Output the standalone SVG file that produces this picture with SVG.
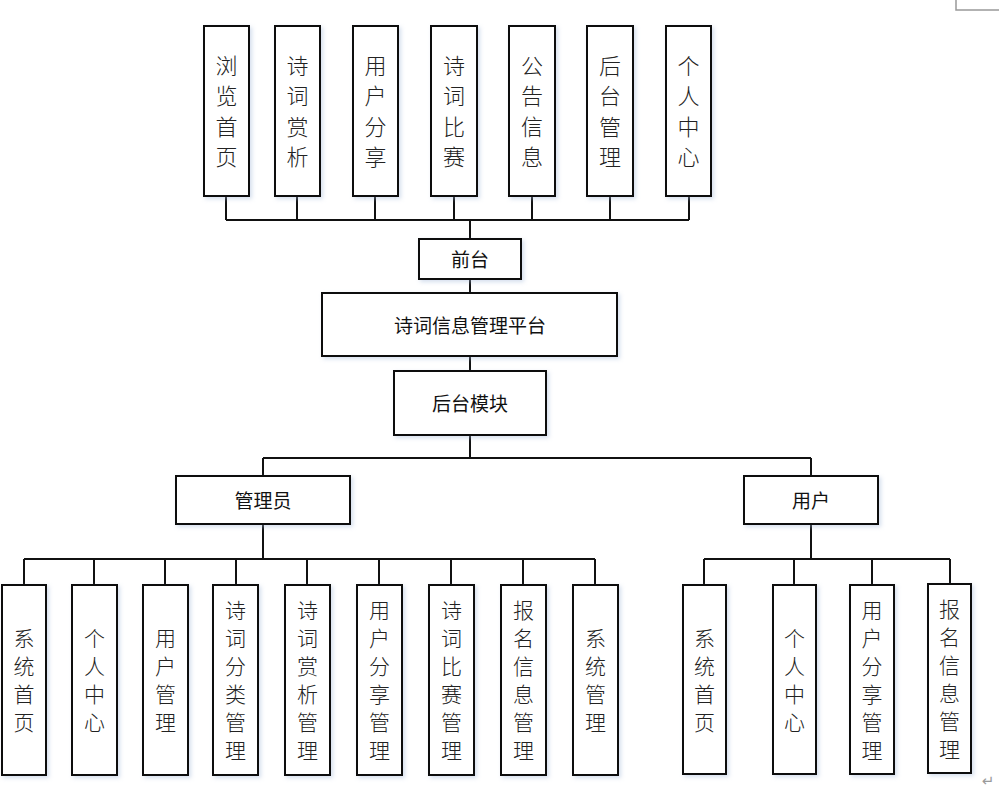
<svg xmlns="http://www.w3.org/2000/svg" width="1004" height="789" viewBox="0 0 1004 789">
<style>
.box{fill:#fff;stroke:#111;stroke-width:2;filter:url(#sh)}
.ln{fill:none;stroke:#111;stroke-width:2}
.t{font-family:"Noto Sans CJK SC","Noto Sans",sans-serif;fill:#111;text-anchor:middle;dominant-baseline:central}
.v{font-size:22px;font-weight:300;fill:#222}
.vb{font-size:21px;font-weight:300;fill:#222}
.h{font-size:19px}
</style>
<defs>
<filter id="sh" x="-20%" y="-20%" width="140%" height="140%">
<feDropShadow dx="2" dy="2" stdDeviation="2" flood-color="#9fb6d8" flood-opacity="0.45"/>
</filter>
</defs>
<rect width="1004" height="789" fill="#fff"/>
<path d="M956,0 V10 H999" fill="none" stroke="#999" stroke-width="1.5"/>

<g id="connectors" class="ln">
<path d="M226,196 V220 M297,196 V220 M375,196 V220 M454,196 V220 M532,196 V220 M610,196 V220 M689,196 V220 M226,220 H689 M470,220 V239"/>
<path d="M470,279 V293 M470,356 V371 M470,435 V458 M263,458 H811 M263,458 V476 M811,458 V476"/>
<path d="M263,524 V559 M24,559 H595 M24,559 V585 M94,559 V585 M165,559 V585 M236,559 V585 M307,559 V585 M379,559 V585 M451,559 V585 M523,559 V585 M595,559 V585"/>
<path d="M811,524 V559 M704,559 H950 M704,559 V585 M794,559 V585 M872,559 V585 M950,559 V584"/>
</g>

<g id="n-browse"><rect class="box" x="204" y="26" width="45" height="170"/><text class="t v"><tspan x="226.5" y="64">浏</tspan><tspan x="226.5" y="94">览</tspan><tspan x="226.5" y="124.5">首</tspan><tspan x="226.5" y="155">页</tspan></text></g>
<g id="n-appreciate"><rect class="box" x="275" y="26" width="45" height="170"/><text class="t v"><tspan x="297.5" y="64">诗</tspan><tspan x="297.5" y="94">词</tspan><tspan x="297.5" y="124.5">赏</tspan><tspan x="297.5" y="155">析</tspan></text></g>
<g id="n-share"><rect class="box" x="353" y="26" width="45" height="170"/><text class="t v"><tspan x="375.5" y="64">用</tspan><tspan x="375.5" y="94">户</tspan><tspan x="375.5" y="124.5">分</tspan><tspan x="375.5" y="155">享</tspan></text></g>
<g id="n-contest"><rect class="box" x="431" y="26" width="46" height="170"/><text class="t v"><tspan x="454" y="64">诗</tspan><tspan x="454" y="94">词</tspan><tspan x="454" y="124.5">比</tspan><tspan x="454" y="155">赛</tspan></text></g>
<g id="n-notice"><rect class="box" x="509" y="26" width="46" height="170"/><text class="t v"><tspan x="532" y="64">公</tspan><tspan x="532" y="94">告</tspan><tspan x="532" y="124.5">信</tspan><tspan x="532" y="155">息</tspan></text></g>
<g id="n-backend"><rect class="box" x="587" y="26" width="46" height="170"/><text class="t v"><tspan x="610" y="64">后</tspan><tspan x="610" y="94">台</tspan><tspan x="610" y="124.5">管</tspan><tspan x="610" y="155">理</tspan></text></g>
<g id="n-personal"><rect class="box" x="666" y="26" width="45" height="170"/><text class="t v"><tspan x="688.5" y="64">个</tspan><tspan x="688.5" y="94">人</tspan><tspan x="688.5" y="124.5">中</tspan><tspan x="688.5" y="155">心</tspan></text></g>

<g id="n-front"><rect class="box" x="419" y="239" width="102" height="40"/><text class="t h" x="470" y="258">前台</text></g>
<g id="n-platform"><rect class="box" x="322" y="293" width="295" height="63"/><text class="t h" x="470" y="324">诗词信息管理平台</text></g>
<g id="n-backmod"><rect class="box" x="394" y="371" width="152" height="64"/><text class="t h" x="470" y="402">后台模块</text></g>
<g id="n-admin"><rect class="box" x="176" y="476" width="174" height="48"/><text class="t h" x="263" y="499">管理员</text></g>
<g id="n-user"><rect class="box" x="744" y="476" width="134" height="48"/><text class="t h" x="811" y="499">用户</text></g>

<g id="a-home"><rect class="box" x="2" y="585" width="44" height="190"/><text class="t vb"><tspan x="24" y="637">系</tspan><tspan x="24" y="665">统</tspan><tspan x="24" y="693">首</tspan><tspan x="24" y="721">页</tspan></text></g>
<g id="a-personal"><rect class="box" x="72" y="585" width="45" height="190"/><text class="t vb"><tspan x="94.5" y="637">个</tspan><tspan x="94.5" y="665">人</tspan><tspan x="94.5" y="693">中</tspan><tspan x="94.5" y="721">心</tspan></text></g>
<g id="a-usermgmt"><rect class="box" x="143" y="585" width="45" height="190"/><text class="t vb"><tspan x="165.5" y="637">用</tspan><tspan x="165.5" y="665">户</tspan><tspan x="165.5" y="693">管</tspan><tspan x="165.5" y="721">理</tspan></text></g>
<g id="a-category"><rect class="box" x="213" y="585" width="45" height="190"/><text class="t vb"><tspan x="235.5" y="609">诗</tspan><tspan x="235.5" y="637">词</tspan><tspan x="235.5" y="665">分</tspan><tspan x="235.5" y="693">类</tspan><tspan x="235.5" y="721">管</tspan><tspan x="235.5" y="749">理</tspan></text></g>
<g id="a-appreciate"><rect class="box" x="285" y="585" width="45" height="190"/><text class="t vb"><tspan x="307.5" y="609">诗</tspan><tspan x="307.5" y="637">词</tspan><tspan x="307.5" y="665">赏</tspan><tspan x="307.5" y="693">析</tspan><tspan x="307.5" y="721">管</tspan><tspan x="307.5" y="749">理</tspan></text></g>
<g id="a-share"><rect class="box" x="357" y="585" width="45" height="190"/><text class="t vb"><tspan x="379.5" y="609">用</tspan><tspan x="379.5" y="637">户</tspan><tspan x="379.5" y="665">分</tspan><tspan x="379.5" y="693">享</tspan><tspan x="379.5" y="721">管</tspan><tspan x="379.5" y="749">理</tspan></text></g>
<g id="a-contest"><rect class="box" x="429" y="585" width="45" height="190"/><text class="t vb"><tspan x="451.5" y="609">诗</tspan><tspan x="451.5" y="637">词</tspan><tspan x="451.5" y="665">比</tspan><tspan x="451.5" y="693">赛</tspan><tspan x="451.5" y="721">管</tspan><tspan x="451.5" y="749">理</tspan></text></g>
<g id="a-signup"><rect class="box" x="501" y="585" width="45" height="190"/><text class="t vb"><tspan x="523.5" y="609">报</tspan><tspan x="523.5" y="637">名</tspan><tspan x="523.5" y="665">信</tspan><tspan x="523.5" y="693">息</tspan><tspan x="523.5" y="721">管</tspan><tspan x="523.5" y="749">理</tspan></text></g>
<g id="a-system"><rect class="box" x="573" y="585" width="45" height="190"/><text class="t vb"><tspan x="595.5" y="637">系</tspan><tspan x="595.5" y="665">统</tspan><tspan x="595.5" y="693">管</tspan><tspan x="595.5" y="721">理</tspan></text></g>

<g id="u-home"><rect class="box" x="683" y="585" width="43" height="189"/><text class="t vb"><tspan x="704.5" y="637">系</tspan><tspan x="704.5" y="665">统</tspan><tspan x="704.5" y="693">首</tspan><tspan x="704.5" y="721">页</tspan></text></g>
<g id="u-personal"><rect class="box" x="773" y="585" width="43" height="189"/><text class="t vb"><tspan x="794.5" y="637">个</tspan><tspan x="794.5" y="665">人</tspan><tspan x="794.5" y="693">中</tspan><tspan x="794.5" y="721">心</tspan></text></g>
<g id="u-share"><rect class="box" x="850" y="585" width="44" height="189"/><text class="t vb"><tspan x="872" y="609">用</tspan><tspan x="872" y="637">户</tspan><tspan x="872" y="665">分</tspan><tspan x="872" y="693">享</tspan><tspan x="872" y="721">管</tspan><tspan x="872" y="749">理</tspan></text></g>
<g id="u-signup"><rect class="box" x="928" y="584" width="43" height="189"/><text class="t vb"><tspan x="949.5" y="608">报</tspan><tspan x="949.5" y="636">名</tspan><tspan x="949.5" y="664">信</tspan><tspan x="949.5" y="692">息</tspan><tspan x="949.5" y="720">管</tspan><tspan x="949.5" y="748">理</tspan></text></g>

<text x="988" y="786" font-family="DejaVu Sans,sans-serif" font-size="15" fill="#9a9a9a" text-anchor="middle">↵</text>
</svg>
